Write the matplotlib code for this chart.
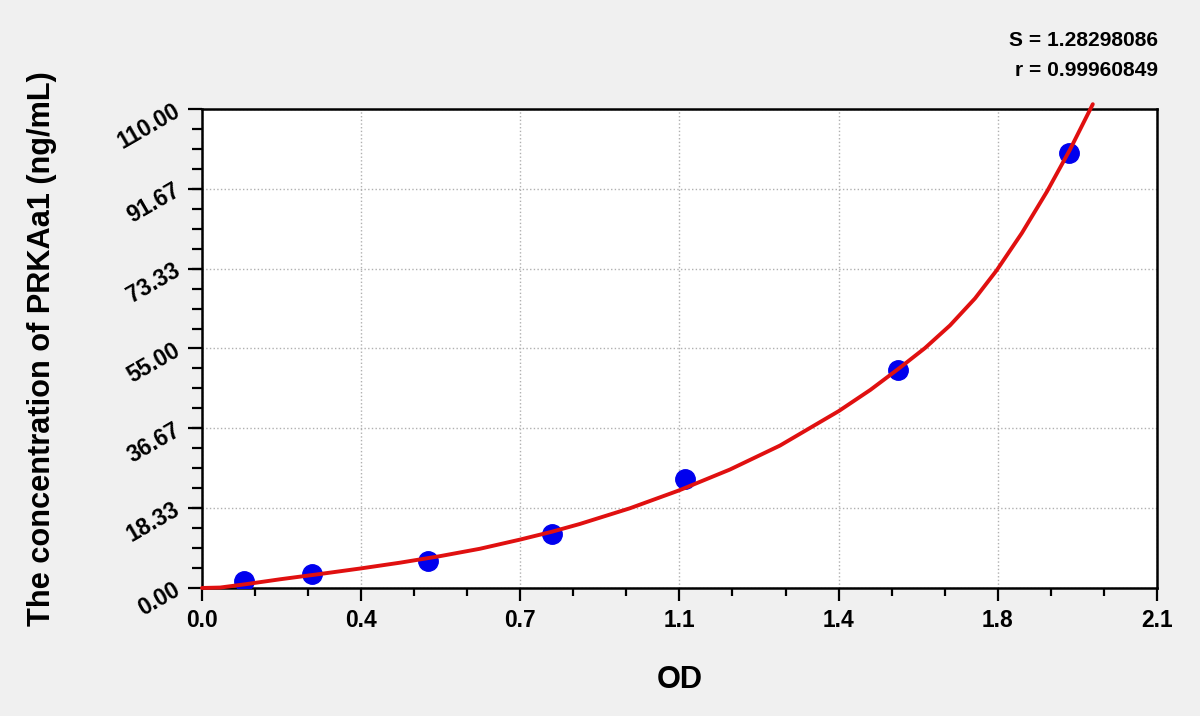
import numpy as np
import matplotlib
matplotlib.use("Agg")
import matplotlib.pyplot as plt
from matplotlib import font_manager
from matplotlib.ticker import FixedLocator, MultipleLocator

names = {f.name for f in font_manager.fontManager.ttflist}
if 'Liberation Sans Narrow' in names:
    plt.rcParams['font.family'] = ['Liberation Sans Narrow', 'DejaVu Sans']
    k = 1.0
else:
    plt.rcParams['font.family'] = ['Liberation Sans', 'DejaVu Sans']
    k = 0.82

# standard points (OD, concentration)
od_points = [0.092, 0.242, 0.497, 0.769, 1.062, 1.530, 1.906]
conc_points = [1.56, 3.13, 6.25, 12.5, 25.0, 50.0, 100.0]

# fitted curve
curve_od = [0.0, 0.04, 0.095, 0.172, 0.259, 0.350, 0.435, 0.523, 0.611,
            0.699, 0.769, 0.831, 0.941, 1.049, 1.161, 1.271, 1.40, 1.47,
            1.535, 1.59, 1.645, 1.70, 1.748, 1.803, 1.858, 1.909, 1.959]
curve_conc = [0.0, 0.1, 0.85, 2.0, 3.2, 4.5, 5.8, 7.3, 9.0,
              11.1, 12.9, 14.7, 18.3, 22.4, 27.2, 32.7, 40.6, 45.5,
              50.6, 55.1, 60.3, 66.5, 73.0, 81.5, 91.0, 100.7, 111.1]

x_ticks = [0.0, 0.35, 0.7, 1.05, 1.4, 1.75, 2.1]
x_labels = ['0.0', '0.4', '0.7', '1.1', '1.4', '1.8', '2.1']
y_ticks = [0.0, 18.33, 36.67, 55.0, 73.33, 91.67, 110.0]
y_labels = ['0.00', '18.33', '36.67', '55.00', '73.33', '91.67', '110.00']

fig = plt.figure(figsize=(12, 7.16), dpi=100, facecolor='#f0f0f0')
ax = fig.add_axes([0.1683, 0.1788, 0.7958, 0.669])
ax.set_facecolor('white')

ax.plot(od_points, conc_points, 'o', color='#0000ee', markersize=14, zorder=3)
ax.plot(curve_od, curve_conc, '-', color='#e01010', linewidth=2.8, zorder=4,
        clip_on=False, solid_joinstyle='round', solid_capstyle='round')

ax.set_xlim(0, 2.1)
ax.set_ylim(0, 110)

ax.xaxis.set_major_locator(FixedLocator(x_ticks))
ax.set_xticklabels(x_labels)
ax.xaxis.set_minor_locator(MultipleLocator(0.35 / 3))
ax.yaxis.set_major_locator(FixedLocator(y_ticks))
ax.set_yticklabels(y_labels)
ax.yaxis.set_minor_locator(MultipleLocator(110 / 24))

ax.grid(True, which='major', linestyle=':', color='#b0b0b0', linewidth=1)
ax.tick_params(axis='x', which='major', length=9, width=1.6, direction='out')
ax.tick_params(axis='x', which='minor', length=6, width=1.6, direction='out')
ax.tick_params(axis='y', which='major', length=10, width=1.6, direction='out')
ax.tick_params(axis='y', which='minor', length=7.5, width=1.6, direction='out')
ax.tick_params(axis='x', labelsize=20 * k, pad=6)
ax.tick_params(axis='y', labelsize=20 * k, pad=7)

for lab in ax.get_xticklabels():
    lab.set_fontweight('bold')
for lab in ax.get_yticklabels():
    lab.set_fontweight('bold')
    lab.set_rotation(30)
    lab.set_rotation_mode('anchor')
    lab.set_ha('right')
    lab.set_va('center')

for s in ax.spines.values():
    s.set_linewidth(1.8)
    s.set_color('black')

ax.set_xlabel('OD', fontsize=27 * k, fontweight='bold')
ax.xaxis.set_label_coords(0.5, -0.192)
ax.xaxis.label.set_va('center')
ax.set_ylabel('The concentration of PRKAa1 (ng/mL)', fontsize=27 * k,
              fontweight='bold')
ax.yaxis.set_label_coords(-0.1675, 0.5)
ax.yaxis.label.set_va('center')

fig.text(1158 / 1200, 1 - 40 / 716, 'S = 1.28298086', ha='right', va='center',
         fontsize=18.5 * k, fontweight='bold')
fig.text(1158 / 1200, 1 - 70 / 716, 'r = 0.99960849', ha='right', va='center',
         fontsize=18.5 * k, fontweight='bold')

fig.savefig('out.png', dpi=100, facecolor=fig.get_facecolor())
